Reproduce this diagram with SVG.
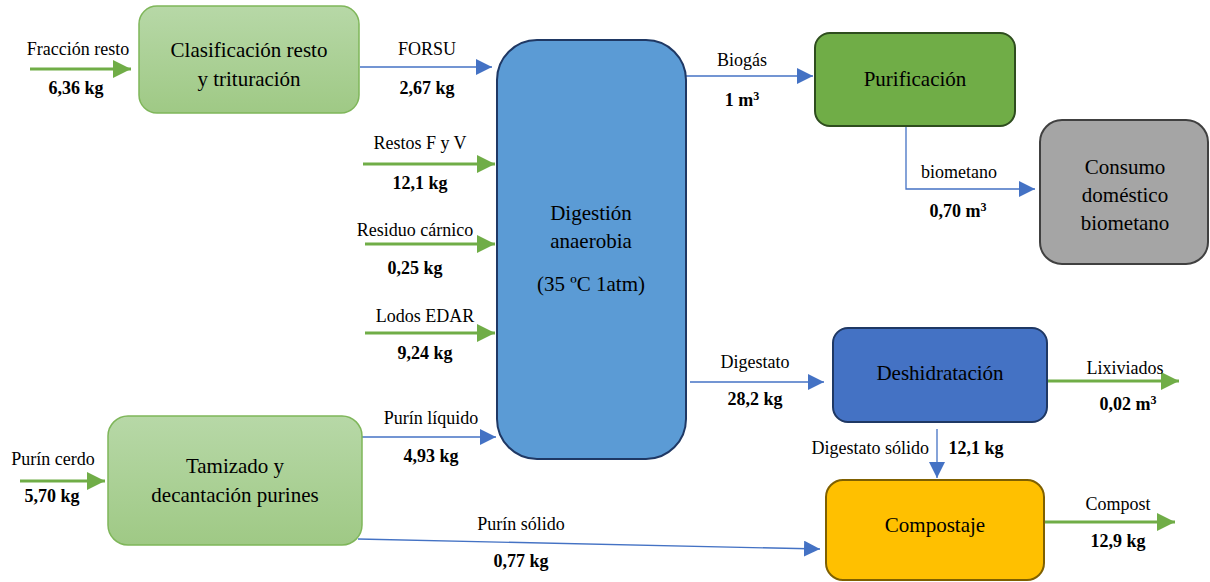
<svg xmlns="http://www.w3.org/2000/svg" width="1210" height="582" viewBox="0 0 1210 582">
<defs>
<linearGradient id="gg" x1="0" y1="0" x2="0" y2="1"><stop offset="0" stop-color="#b7d8a7"/><stop offset="1" stop-color="#9fc985"/></linearGradient>
<marker id="ab" viewBox="0 0 10 10" refX="10" refY="5" markerWidth="16" markerHeight="16" markerUnits="userSpaceOnUse" orient="auto"><path d="M0,0 L10,5 L0,10 z" fill="#4472c4"/></marker>
<marker id="ag" viewBox="0 0 10 10" refX="10" refY="5" markerWidth="18" markerHeight="18" markerUnits="userSpaceOnUse" orient="auto"><path d="M0,0 L10,5 L0,10 z" fill="#70ad47"/></marker>
</defs>
<rect width="1210" height="582" fill="#fff"/>
<g id="connectors" font-family="Liberation Serif" font-size="18" text-anchor="middle">
<g stroke="#70ad47" stroke-width="3" fill="none" marker-end="url(#ag)">
<line x1="30" y1="69" x2="131" y2="69"/>
<line x1="363" y1="164" x2="495" y2="164"/>
<line x1="365" y1="244" x2="495" y2="244"/>
<line x1="365" y1="333" x2="495" y2="333"/>
<line x1="20" y1="481" x2="105" y2="481"/>
<line x1="1047" y1="381" x2="1179" y2="381"/>
<line x1="1044" y1="522" x2="1175" y2="522"/>
</g>
<g stroke="#4472c4" stroke-width="1.3" fill="none" marker-end="url(#ab)">
<line x1="360" y1="67" x2="492" y2="67"/>
<line x1="362" y1="437" x2="496" y2="437"/>
<line x1="358" y1="539" x2="820" y2="549"/>
<line x1="686" y1="76" x2="813" y2="76"/>
<polyline points="906,120 906,189 1035,189"/>
<line x1="690" y1="382" x2="824" y2="382"/>
<line x1="937" y1="429" x2="937" y2="478"/>
</g>
<text x="78" y="55">Fracción resto</text>
<text x="427" y="55">FORSU</text>
<text x="420" y="149">Restos F y V</text>
<text x="415" y="236">Residuo cárnico</text>
<text x="425" y="322">Lodos EDAR</text>
<text x="431" y="424">Purín líquido</text>
<text x="53" y="465">Purín cerdo</text>
<text x="521" y="530">Purín sólido</text>
<text x="742" y="66">Biogás</text>
<text x="959" y="178">biometano</text>
<text x="755" y="368">Digestato</text>
<text x="1125" y="374">Lixiviados</text>
<text x="929" y="454" text-anchor="end">Digestato sólido</text>
<text x="1118" y="510">Compost</text>
<g font-weight="bold">
<text x="76" y="94">6,36 kg</text>
<text x="427" y="94">2,67 kg</text>
<text x="420" y="189">12,1 kg</text>
<text x="415" y="274">0,25 kg</text>
<text x="425" y="359">9,24 kg</text>
<text x="431" y="462">4,93 kg</text>
<text x="52" y="502">5,70 kg</text>
<text x="521" y="567">0,77 kg</text>
<text x="742" y="106">1 m<tspan font-size="12" dy="-6">3</tspan></text>
<text x="958" y="217">0,70 m<tspan font-size="12" dy="-6">3</tspan></text>
<text x="755" y="405">28,2 kg</text>
<text x="1128" y="410">0,02 m<tspan font-size="12" dy="-6">3</tspan></text>
<text x="976" y="454">12,1 kg</text>
<text x="1118" y="547">12,9 kg</text>
</g>
</g>
<g id="clasificacion" font-family="Liberation Serif" font-size="21" text-anchor="middle">
<rect x="139" y="6" width="220" height="107" rx="18" fill="url(#gg)" stroke="#7fb65a" stroke-width="1.5"/>
<text x="249" y="57">Clasificación resto</text>
<text x="249" y="86">y trituración</text>
</g>
<g id="digestion" font-family="Liberation Serif" font-size="21" text-anchor="middle">
<rect x="497" y="40" width="189" height="419" rx="40" fill="#5b9bd5" stroke="#1f3864" stroke-width="2"/>
<text x="591" y="220">Digestión</text>
<text x="591" y="248">anaerobia</text>
<text x="591" y="291">(35 ºC 1atm)</text>
</g>
<g id="purificacion" font-family="Liberation Serif" font-size="21" text-anchor="middle">
<rect x="815" y="33" width="200" height="93" rx="15" fill="#70ad47" stroke="#2e4d1e" stroke-width="2"/>
<text x="915" y="86">Purificación</text>
</g>
<g id="consumo" font-family="Liberation Serif" font-size="21" text-anchor="middle">
<rect x="1040" y="120" width="168" height="144" rx="22" fill="#a5a5a5" stroke="#404040" stroke-width="2"/>
<text x="1125" y="174">Consumo</text>
<text x="1125" y="202">doméstico</text>
<text x="1125" y="230">biometano</text>
</g>
<g id="deshidratacion" font-family="Liberation Serif" font-size="21" text-anchor="middle">
<rect x="833" y="328" width="214" height="94" rx="15" fill="#4472c4" stroke="#1f3864" stroke-width="2"/>
<text x="940" y="380">Deshidratación</text>
</g>
<g id="tamizado" font-family="Liberation Serif" font-size="21" text-anchor="middle">
<rect x="108" y="416" width="254" height="129" rx="20" fill="url(#gg)" stroke="#7fb65a" stroke-width="1.5"/>
<text x="235" y="473">Tamizado y</text>
<text x="235" y="502">decantación purines</text>
</g>
<g id="compostaje" font-family="Liberation Serif" font-size="21" text-anchor="middle">
<rect x="826" y="480" width="218" height="100" rx="17" fill="#ffc000" stroke="#7f6000" stroke-width="2"/>
<text x="935" y="532">Compostaje</text>
</g>
</svg>
